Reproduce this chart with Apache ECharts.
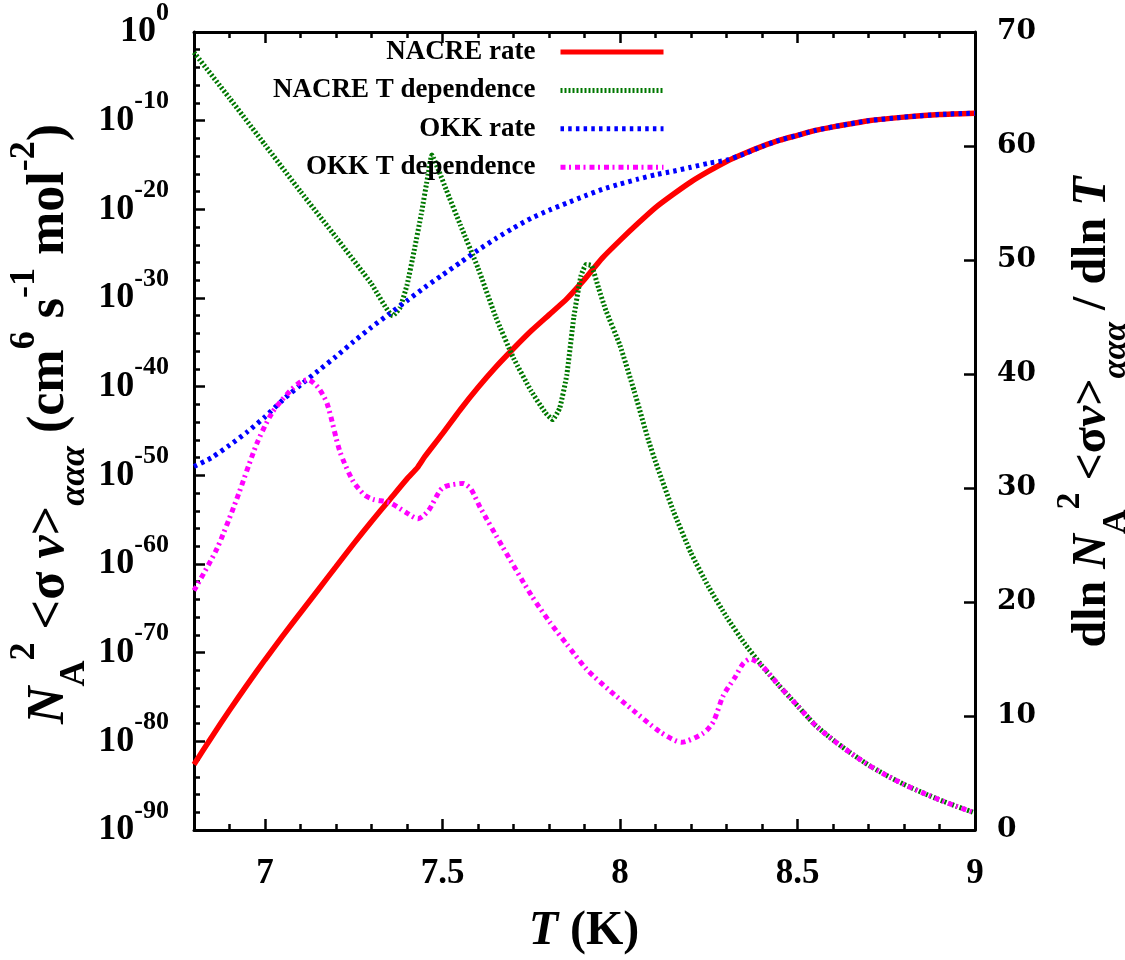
<!DOCTYPE html>
<html>
<head>
<meta charset="utf-8">
<script src="https://cdn.jsdelivr.net/npm/echarts@6/dist/echarts.min.js"></script>
<style>
  html, body { margin: 0; padding: 0; background: #fff; }
  #chart { width: 1125px; height: 960px; }
</style>
</head>
<body>
<div id="chart"></div>
<script>
// log10 T grid and log10 of the triple-alpha rate for each set
const nacreRateT = [6.80,6.85,6.90,6.95,7.00,7.05,7.10,7.15,7.20,7.25,7.30,7.35,7.40,7.43,7.45,7.50,7.55,7.60,7.65,7.70,7.75,7.80,7.85,7.90,7.95,8.00,8.05,8.10,8.15,8.20,8.25,8.30,8.35,8.40,8.45,8.50,8.55,8.60,8.65,8.70,8.80,8.90,9.00];
const nacreRateExp = [-82.6,-79.5,-76.5,-73.6,-70.8,-68.1,-65.5,-62.9,-60.3,-57.7,-55.2,-52.8,-50.4,-49.1,-47.9,-45.3,-42.6,-40.1,-37.8,-35.7,-33.7,-31.9,-30.1,-27.9,-25.5,-23.5,-21.6,-19.8,-18.3,-16.9,-15.7,-14.6,-13.7,-12.9,-12.2,-11.65,-11.1,-10.7,-10.35,-10.0,-9.6,-9.3,-9.15];

const okkRateT = [6.80,6.85,6.90,6.95,7.00,7.05,7.10,7.15,7.20,7.25,7.30,7.35,7.40,7.45,7.50,7.55,7.60,7.65,7.70,7.75,7.80,7.85,7.90,7.95,8.00,8.05,8.10,8.15,8.20,8.25,8.30,8.35,8.40,8.45,8.50,8.55,8.60,8.65,8.70,8.80,8.90,9.00];
const okkRateExp = [-49.0,-48.0,-46.6,-45.1,-43.4,-41.5,-39.8,-38.2,-36.6,-34.9,-33.3,-31.8,-30.3,-28.8,-27.4,-26.0,-24.6,-23.3,-22.1,-21.0,-20.1,-19.3,-18.5,-17.75,-17.15,-16.6,-16.1,-15.7,-15.25,-14.8,-14.45,-13.75,-12.9,-12.2,-11.65,-11.1,-10.7,-10.35,-10.0,-9.6,-9.3,-9.15];

// temperature dependence d ln rate / d ln T
const nacreDepT = [6.80,6.90,7.00,7.10,7.20,7.30,7.36,7.38,7.40,7.42,7.44,7.46,7.47,7.49,7.51,7.55,7.60,7.65,7.70,7.75,7.79,7.81,7.83,7.85,7.87,7.89,7.905,7.92,7.94,7.96,8.00,8.04,8.08,8.10,8.15,8.20,8.25,8.30,8.35,8.40,8.45,8.50,8.55,8.60,8.65,8.70,8.75,8.80,8.85,8.90,8.95,9.00];
const nacreDep = [68.2,64.2,60.1,56.0,52.0,47.9,45.1,45.8,47.8,50.8,54.0,57.6,59.2,57.8,56.2,53.1,49.3,45.0,41.4,38.5,36.6,36.0,37.0,39.9,45.0,48.6,49.6,49.5,47.5,45.6,42.5,38.5,34.2,32.3,28.0,24.3,21.3,18.7,16.4,14.4,12.6,10.9,9.2,7.9,6.75,5.7,4.8,4.0,3.3,2.65,2.05,1.5];

const okkDepT = [6.80,6.865,6.92,6.977,7.02,7.07,7.10,7.121,7.15,7.175,7.211,7.248,7.28,7.305,7.352,7.40,7.431,7.46,7.50,7.558,7.58,7.606,7.67,7.75,7.803,7.85,7.906,7.972,8.037,8.113,8.173,8.235,8.263,8.291,8.324,8.347,8.366,8.40,8.45,8.50,8.55,8.60,8.65,8.70,8.75,8.80,8.85,8.90,8.95,9.00];
const okkDep = [21.0,24.7,29.0,33.9,36.6,38.5,39.3,39.5,38.8,37.4,33.2,30.6,29.4,29.0,28.7,27.8,27.3,28.0,30.0,30.4,29.9,28.3,24.8,20.6,18.2,16.3,14.1,12.2,10.5,8.6,7.7,8.5,9.5,11.8,13.4,14.6,15.0,14.4,12.6,10.9,9.2,7.9,6.75,5.7,4.8,4.0,3.3,2.65,2.05,1.5];

const seriesNames = ['NACRE rate', 'NACRE T dependence', 'OKK rate', 'OKK T dependence'];
const xMajorTicks = [7, 7.5, 8, 8.5, 9];

const SERIF = "'Liberation Serif', 'Times New Roman', serif";
const pairs = (xs, ys) => xs.map((x, i) => [x, ys[i]]);

const chart = echarts.init(document.getElementById('chart'), null, { renderer: 'canvas' });

const frameLine = { show: true, onZero: false, lineStyle: { color: '#000', width: 3 } };
const noLine = { show: false, onZero: false };

// x axes come in pairs: one carries the long ticks (and the frame line), the other the short 0.1 ticks
function xAxisDef(position, major, withLabels) {
  return {
    type: 'value', position: position, min: 6.8, max: 9, interval: 0.1,
    axisLine: major ? frameLine : noLine,
    splitLine: { show: false },
    axisTick: major
      ? { show: true, inside: true, length: 11, customValues: xMajorTicks, lineStyle: { color: '#000', width: 2.5 } }
      : { show: true, inside: true, length: 6, lineStyle: { color: '#000', width: 2.5 } },
    axisLabel: withLabels
      ? { show: true, customValues: xMajorTicks, margin: 26, color: '#000',
          fontFamily: SERIF, fontWeight: 'bold', fontSize: 35 }
      : { show: false }
  };
}

function titleRich(size, small) {
  const base = { fontFamily: SERIF, fontWeight: 'bold', fill: '#000' };
  const line = Math.round(size * 1.66);
  return {
    b: Object.assign({}, base, { fontSize: size, lineHeight: line, verticalAlign: 'middle' }),
    it: Object.assign({}, base, { fontStyle: 'italic', fontSize: size, lineHeight: line, verticalAlign: 'middle' }),
    sup: Object.assign({}, base, { fontSize: small, lineHeight: small, verticalAlign: 'top' }),
    sub: Object.assign({}, base, { fontSize: small, lineHeight: small, verticalAlign: 'bottom' }),
    subit: Object.assign({}, base, { fontStyle: 'italic', fontSize: small, lineHeight: small, verticalAlign: 'bottom' })
  };
}

const option = {
  animation: false,
  backgroundColor: '#fff',
  grid: { left: 194, top: 30, width: 781, height: 800, containLabel: false },
  legend: {
    show: true,
    data: seriesNames,
    orient: 'vertical',
    align: 'right',
    right: 459,
    top: 37,
    padding: 0,
    itemGap: 8.4,
    itemWidth: 103,
    itemHeight: 14,
    selectedMode: false,
    itemStyle: { opacity: 0 },
    lineStyle: { width: 5 },
    textStyle: { fontFamily: SERIF, fontWeight: 'bold', fontSize: 27, lineHeight: 30, color: '#000', padding: [0, 20, 0, 0] }
  },
  xAxis: [
    xAxisDef('bottom', true, true),
    xAxisDef('bottom', false, false),
    xAxisDef('top', true, false),
    xAxisDef('top', false, false)
  ],
  yAxis: [
    {
      type: 'value', position: 'left', min: -90, max: 0, interval: 10,
      axisLine: frameLine,
      splitLine: { show: false },
      axisTick: { show: true, inside: true, length: 11, lineStyle: { color: '#000', width: 2.5 } },
      minorTick: { show: true, splitNumber: 5, length: 6, lineStyle: { color: '#000', width: 2.5 } },
      minorSplitLine: { show: false },
      axisLabel: {
        margin: 25,
        formatter: v => '{b|10}{sup|' + v + '}',
        rich: {
          b: { fontFamily: SERIF, fontWeight: 'bold', fontSize: 36, lineHeight: 64, color: '#000' },
          sup: { fontFamily: SERIF, fontWeight: 'bold', fontSize: 26, lineHeight: 26, verticalAlign: 'top', color: '#000' }
        }
      }
    },
    {
      type: 'value', position: 'right', min: 0, max: 70, interval: 10,
      axisLine: frameLine,
      splitLine: { show: false },
      axisTick: { show: true, inside: true, length: 11, lineStyle: { color: '#000', width: 2.5 } },
      axisLabel: { margin: 22, color: '#000', fontFamily: "'DejaVu Serif', serif", fontWeight: 'bold', fontSize: 28 }
    }
  ],
  graphic: [
    {
      type: 'text', x: 50, y: 424, rotation: Math.PI / 2, silent: true,
      style: {
        text: '{it|N}{sub|A}{sup|2}{b| <σ }{it|v}{b|>}{subit|ααα}{b| (cm}{sup|6}{b| s}{sup|-1}{b| mol}{sup|-2}{b|)}',
        rich: titleRich(52, 36), align: 'center', verticalAlign: 'middle'
      }
    },
    {
      type: 'text', x: 1093, y: 412, rotation: Math.PI / 2, silent: true,
      style: {
        text: '{b|dln }{it|N}{sub|A}{sup|2}{b| <σ}{it|v}{b|>}{subit|ααα}{b| / dln }{it|T}',
        rich: titleRich(48, 34), align: 'center', verticalAlign: 'middle'
      }
    },
    {
      type: 'text', x: 584, y: 932, silent: true,
      style: {
        text: '{it|T}{b| (K)}',
        rich: titleRich(48, 34), align: 'center', verticalAlign: 'middle'
      }
    }
  ],
  series: [
    {
      name: seriesNames[0], type: 'line', xAxisIndex: 0, yAxisIndex: 0,
      data: pairs(nacreRateT, nacreRateExp), symbol: 'none', smooth: 0.2,
      lineStyle: { color: '#ff0000', width: 5.5, type: 'solid' }, itemStyle: { color: '#ff0000' }
    },
    {
      name: seriesNames[1], type: 'line', xAxisIndex: 0, yAxisIndex: 1,
      data: pairs(nacreDepT, nacreDep), symbol: 'none', smooth: 0.15,
      lineStyle: { color: '#007800', width: 5, type: [2, 2], cap: 'butt' }, itemStyle: { color: '#007800' }
    },
    {
      name: seriesNames[2], type: 'line', xAxisIndex: 0, yAxisIndex: 0,
      data: pairs(okkRateT, okkRateExp), symbol: 'none', smooth: 0.2,
      lineStyle: { color: '#0000ff', width: 5, type: [3.5, 4.2], cap: 'butt' }, itemStyle: { color: '#0000ff' }
    },
    {
      name: seriesNames[3], type: 'line', xAxisIndex: 0, yAxisIndex: 1,
      data: pairs(okkDepT, okkDep), symbol: 'none', smooth: 0.25,
      lineStyle: { color: '#ff00ff', width: 5, type: [5, 3.5, 2, 4], cap: 'butt' }, itemStyle: { color: '#ff00ff' }
    }
  ]
};

chart.setOption(option);
</script>
</body>
</html>
